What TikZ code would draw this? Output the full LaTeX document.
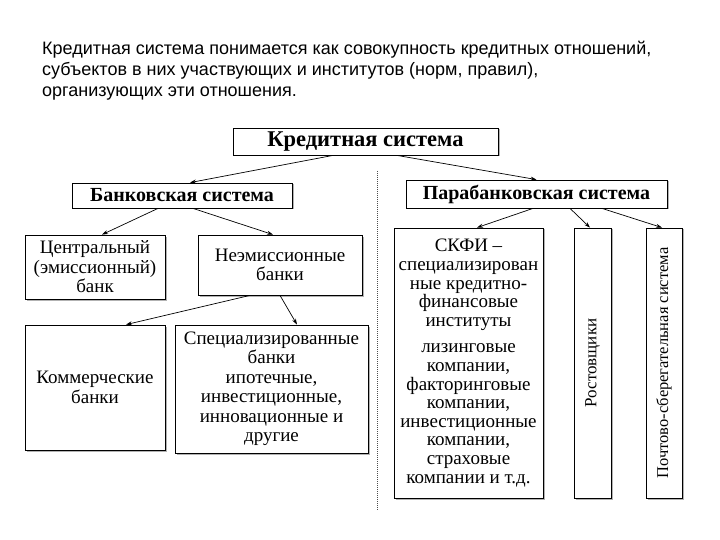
\documentclass[tikz,border=0pt]{standalone}
\usepackage{fontspec}
\setmainfont{Liberation Serif}
\newfontfamily\headfont{Liberation Sans}
\usetikzlibrary{arrows.meta,shadows}

\begin{document}
\begin{tikzpicture}[x=1pt, y=-1pt,
    every node/.style={align=center, inner sep=1pt},
    box/.style={draw, line width=0.8pt, fill=white, drop shadow={shadow xshift=1.5pt, shadow yshift=-1.5pt, fill=black!30, opacity=1}, font=\fontsize{19}{19.5}\selectfont},
    title/.style={box, font=\fontsize{20}{22}\selectfont\bfseries},
    link/.style={-{Stealth[length=6pt, width=4pt]}, line width=0.7pt}
]
    \useasboundingbox (0,0) rectangle (720,540);

    \node[anchor=north west, align=left, inner sep=0pt, font=\headfont\fontsize{18}{21}\selectfont] (intro) at (42,41) {Кредитная система понимается как совокупность кредитных отношений,\\субъектов в них участвующих и институтов (норм, правил),\\организующих эти отношения.};

    \node[title, minimum width=265, minimum height=27, font=\fontsize{22.5}{24}\selectfont\bfseries] (credit) at (365.5,141.5) {Кредитная система};
    \node[title, minimum width=220, minimum height=25] (bank) at (182,195.5) {Банковская система};
    \node[title, minimum width=261, minimum height=28] (para) at (536.5,194) {Парабанковская система};

    \node[box, minimum width=140, minimum height=64] (central) at (95,267) {Центральный\\(эмиссионный)\\банк};
    \node[box, minimum width=164, minimum height=60] (nonem) at (280,265) {Неэмиссионные\\банки};
    \node[box, minimum width=140, minimum height=125] (comm) at (95,387.5) {Коммерческие\\банки};
    \node[box, minimum width=193, minimum height=128] (spec) at (271.5,389) {Специализированные\\банки\\ипотечные,\\инвестиционные,\\инновационные и\\другие};

    \node[box, minimum width=149, minimum height=270, font=\fontsize{19}{18.6}\selectfont] (skfi) at (468.5,363) {СКФИ –\\специализирован\\ные кредитно-\\финансовые\\институты\\[8pt]лизинговые\\компании,\\факторинговые\\компании,\\инвестиционные\\компании,\\страховые\\компании и т.д.};
    \node[box, minimum width=37, minimum height=270] (rost) at (592.5,363) {\rotatebox{90}{\fontsize{17}{17}\selectfont Ростовщики}};
    \node[box, minimum width=36, minimum height=270] (post) at (664,363) {\rotatebox{90}{\fontsize{16.5}{17}\selectfont Почтово-сберегательная система}};

    \coordinate (sepTop) at (377,171);
    \coordinate (sepBot) at (377,510);
    \draw[densely dotted, line width=1pt, black!70] (sepTop) -- (sepBot);

    \draw[link] ([xshift=-32.5pt]credit.south) -- ([xshift=8pt]bank.north);
    \draw[link] ([xshift=31.5pt]credit.south) -- (para.north);
    \draw[link] ([xshift=-24pt]bank.south) -- ([xshift=7pt]central.north);
    \draw[link] ([xshift=11pt]bank.south) -- ([xshift=-7pt]nonem.north);
    \draw[link] ([xshift=-30pt]nonem.south) -- ([xshift=31pt]comm.north);
    \draw[link] (nonem.south) -- ([xshift=25.5pt]spec.north);
    \draw[link] ([xshift=-3.5pt]para.south) -- ([xshift=8.5pt]skfi.north);
    \draw[link] ([xshift=33.5pt]para.south) -- ([xshift=-2.5pt]rost.north);
    \draw[link] ([xshift=65.5pt]para.south) -- ([xshift=-2pt]post.north);
\end{tikzpicture}
\end{document}
